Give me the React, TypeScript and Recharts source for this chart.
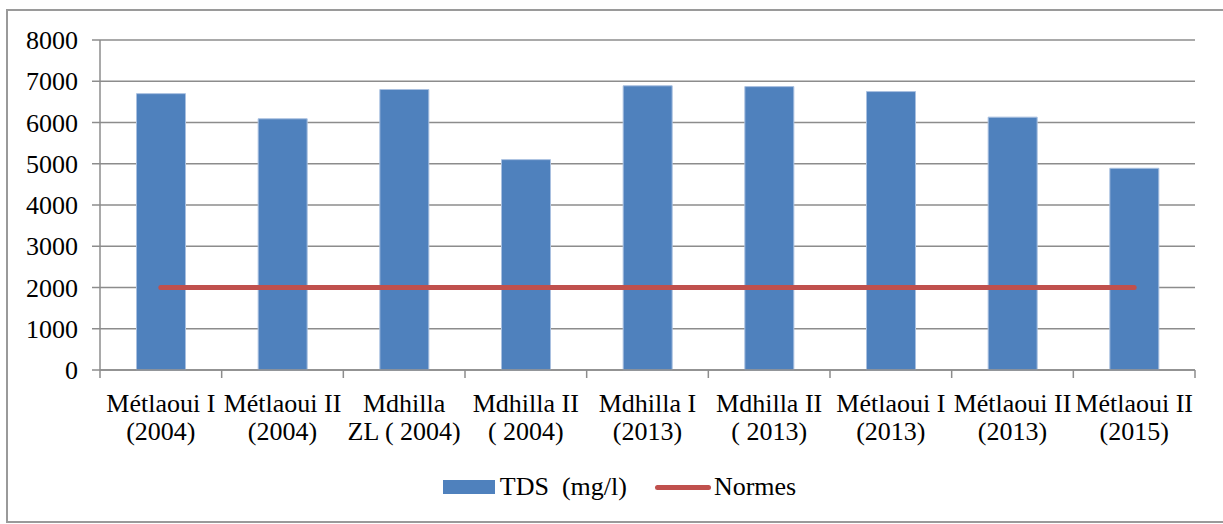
import React from "react";
import {
  ComposedChart,
  Bar,
  Line,
  XAxis,
  YAxis,
  CartesianGrid,
  Legend,
} from "recharts";

const categories = [
  ["Métlaoui I", "(2004)"],
  ["Métlaoui II", "(2004)"],
  ["Mdhilla", "ZL ( 2004)"],
  ["Mdhilla II", "( 2004)"],
  ["Mdhilla I", "(2013)"],
  ["Mdhilla II", "( 2013)"],
  ["Métlaoui I", "(2013)"],
  ["Métlaoui II", "(2013)"],
  ["Métlaoui II", "(2015)"],
];
const tdsValues = [6700, 6090, 6800, 5100, 6890, 6870, 6750, 6130, 4890];
const normesValues = [2000, 2000, 2000, 2000, 2000, 2000, 2000, 2000, 2000];
const yTicks = [0, 1000, 2000, 3000, 4000, 5000, 6000, 7000, 8000];

const FONT = "Liberation Serif, DejaVu Serif, serif";
const GRID = "#8c8c8c";

const data = categories.map((c, i) => ({
  name: c.join("\n"),
  tds: tdsValues[i],
  normes: normesValues[i],
}));

const XTick = (props: any) => {
  const { x, y, payload, index, width } = props;
  const bw = width / categories.length;
  const lines = String(payload.value).split("\n");
  return (
    <g>
      <line x1={x - bw / 2} x2={x - bw / 2} y1={y - 8} y2={y} stroke={GRID} strokeWidth={1.5} />
      {index === categories.length - 1 && (
        <line x1={x + bw / 2} x2={x + bw / 2} y1={y - 8} y2={y} stroke={GRID} strokeWidth={1.5} />
      )}
      <text x={x} y={y + 34} textAnchor="middle" style={{ fontFamily: FONT, fontSize: 26 }} fill="#000">
        {lines.map((l, i) => (
          <tspan key={i} x={x} dy={i === 0 ? 0 : 28} style={{ whiteSpace: "pre" }}>
            {l}
          </tspan>
        ))}
      </text>
    </g>
  );
};

const renderLegend = () => (
  <div
    style={{
      height: 50,
      display: "flex",
      alignItems: "center",
      justifyContent: "center",
      paddingLeft: 44,
      fontFamily: FONT,
      fontSize: 26,
      color: "#000",
    }}
  >
    <span style={{ display: "inline-block", width: 52, height: 14, background: "#4F81BD", marginRight: 5 }} />
    <span style={{ whiteSpace: "pre", marginRight: 28 }}>TDS  (mg/l)</span>
    <span
      style={{
        display: "inline-block",
        width: 56,
        height: 5,
        borderRadius: 3,
        background: "#C0504D",
        marginRight: 3,
      }}
    />
    <span>Normes</span>
  </div>
);

export default function App() {
  return (
    <div style={{ position: "fixed", left: 0, top: 0, width: 1223, height: 524, background: "#fff", overflow: "hidden" }}>
      <div
        style={{
          position: "absolute",
          left: 6,
          top: 9,
          width: 1230,
          height: 514,
          boxSizing: "border-box",
          border: "2px solid #9a9a9a",
        }}
      />
      <ComposedChart
        width={1223}
        height={524}
        data={data}
        margin={{ top: 40, right: 28, left: 0, bottom: 12 }}
        barCategoryGap="30%"
        style={{ position: "absolute", left: 0, top: 0 }}
      >
        <CartesianGrid vertical={false} stroke={GRID} strokeWidth={1.5} />
        <XAxis
          dataKey="name"
          interval={0}
          height={92}
          axisLine={{ stroke: GRID, strokeWidth: 1.5 }}
          tickLine={false}
          tick={<XTick />}
        />
        <YAxis
          width={100}
          domain={[0, 8000]}
          ticks={yTicks}
          interval={0}
          axisLine={{ stroke: GRID, strokeWidth: 1.5 }}
          tickLine={{ stroke: GRID, strokeWidth: 1.5 }}
          tickSize={8}
          tickMargin={14}
          tick={{ style: { fontFamily: FONT, fontSize: 26 }, fill: "#000" }}
        />
        <Legend verticalAlign="bottom" content={renderLegend} />
        <Bar dataKey="tds" name="TDS  (mg/l)" fill="#4F81BD" stroke="#a9c0e0" strokeWidth={1} isAnimationActive={false} />
        <Line
          dataKey="normes"
          name="Normes"
          stroke="#C0504D"
          strokeWidth={5}
          strokeLinecap="round"
          dot={false}
          activeDot={false}
          isAnimationActive={false}
        />
      </ComposedChart>
    </div>
  );
}
